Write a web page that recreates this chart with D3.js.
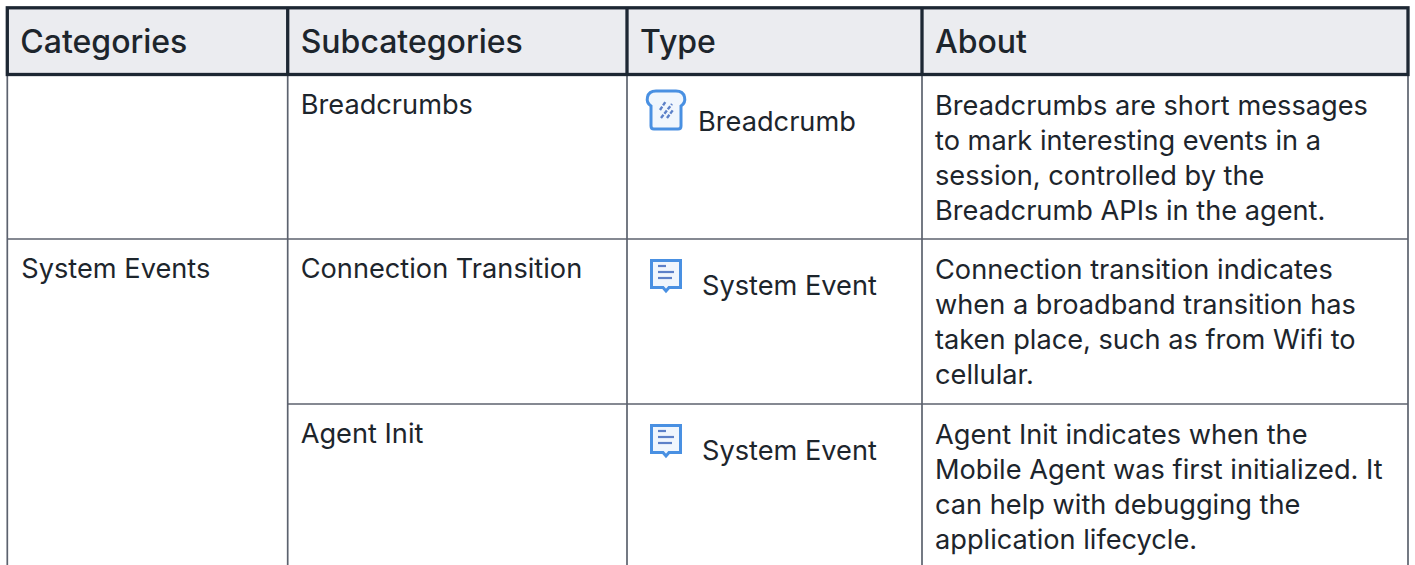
<!DOCTYPE html>
<html>
<head>
<meta charset="utf-8">
<script src="https://cdn.jsdelivr.net/npm/d3@7"></script>
<style>
    html, body { margin: 0; padding: 0; background: #fff; }
    svg { display: block; }
    text { font-family: Inter, "Noto Sans", sans-serif; fill: #1d252c; }
</style>
</head>
<body>
<div id="chart"></div>
<script>
// table content
const columns = ["Categories", "Subcategories", "Type", "About"];
const categories = ["", "System Events", ""];
const subcategories = ["Breadcrumbs", "Connection Transition", "Agent Init"];
const types = ["Breadcrumb", "System Event", "System Event"];
const about = [
    ["Breadcrumbs are short messages", "to mark interesting events in a", "session, controlled by the", "Breadcrumb APIs in the agent."],
    ["Connection transition indicates", "when a broadband transition has", "taken place, such as from Wifi to", "cellular."],
    ["Agent Init indicates when the", "Mobile Agent was first initialized. It", "can help with debugging the", "application lifecycle."]
];

const width = 1415, height = 565;
const colEdges = [7.3, 287.7, 627, 922, 1408];
const headTop = 7.8, headBottom = 74.5;
const rowTops = [75, 239, 404];
const lineHeight = 35;
const bodySize = 27.2;

const svg = d3.select("#chart").append("svg")
    .attr("width", width)
    .attr("height", height);

svg.append("defs").append("filter").attr("id", "soft")
    .append("feGaussianBlur").attr("stdDeviation", 0.7);

const rows = d3.range(subcategories.length);
const x = d3.scaleOrdinal().domain(columns).range(colEdges);
const y = d3.scaleOrdinal().domain(rows).range(rowTops);

// header band
svg.append("rect")
    .attr("x", colEdges[0]).attr("y", headTop)
    .attr("width", colEdges[4] - colEdges[0]).attr("height", headBottom - headTop)
    .attr("fill", "#ebecf0");

// body lines
const gridColor = "#5c626e";
svg.selectAll(".vline").data(colEdges).enter().append("line")
    .attr("class", "vline")
    .attr("x1", d => d).attr("x2", d => d)
    .attr("y1", headBottom).attr("y2", height)
    .attr("stroke", gridColor).attr("stroke-width", 1.7);

// System Events spans two rows, so the last line starts at the second column
svg.selectAll(".hline").data(rows.slice(1)).enter().append("line")
    .attr("class", "hline")
    .attr("x1", d => d === 2 ? colEdges[1] : colEdges[0])
    .attr("x2", colEdges[4])
    .attr("y1", d => y(d)).attr("y2", d => y(d))
    .attr("stroke", gridColor).attr("stroke-width", 1.7);

// header border
const headColor = "#1d2733";
svg.append("rect")
    .attr("x", colEdges[0]).attr("y", headTop)
    .attr("width", colEdges[4] - colEdges[0]).attr("height", headBottom - headTop)
    .attr("fill", "none").attr("stroke", headColor).attr("stroke-width", 3.3);
svg.selectAll(".hsep").data(colEdges.slice(1, 4)).enter().append("line")
    .attr("class", "hsep")
    .attr("x1", d => d).attr("x2", d => d)
    .attr("y1", headTop).attr("y2", headBottom)
    .attr("stroke", headColor).attr("stroke-width", 3.3);

// header text
svg.selectAll(".head").data(columns).enter().append("text")
    .attr("class", "head")
    .attr("x", d => x(d) + 13)
    .attr("y", 53)
    .attr("font-size", 32)
    .attr("font-weight", 550)
    .text(d => d);

// body text
svg.selectAll(".cat").data(categories).enter().append("text")
    .attr("x", x(columns[0]) + 14)
    .attr("y", (d, i) => y(i) + 39)
    .attr("font-size", bodySize).text(d => d);
svg.selectAll(".sub").data(subcategories).enter().append("text")
    .attr("x", x(columns[1]) + 13)
    .attr("y", (d, i) => y(i) + 39)
    .attr("font-size", bodySize).text(d => d);
svg.selectAll(".type").data(types).enter().append("text")
    .attr("x", d => x(columns[2]) + (d === "Breadcrumb" ? 71 : 75))
    .attr("y", (d, i) => y(i) + 56)
    .attr("font-size", bodySize).text(d => d);

about.forEach((lines, i) => {
    svg.selectAll(".about" + i).data(lines).enter().append("text")
        .attr("class", "about" + i)
        .attr("x", x(columns[3]) + 13)
        .attr("y", (d, j) => y(i) + 40 + j * lineHeight)
        .attr("font-size", bodySize).text(d => d);
});

// type icons, soft like the scaled bitmaps they stand in for
const iconBlue = "#4a90e2", iconInk = "#5b80c8", iconFill = "#f0f6fd";
const icons = svg.selectAll(".icon").data(types).enter().append("g")
    .attr("class", "icon")
    .attr("filter", "url(#soft)")
    .attr("transform", (d, i) => d === "Breadcrumb"
        ? `translate(${x(columns[2]) + 18},${y(i) + 13})`
        : `translate(${x(columns[2]) + 23},${y(i) + 20})`);

icons.filter(d => d === "Breadcrumb").each(function () {
    const g = d3.select(this);
    g.append("path")
        .attr("d", "M9 41 Q6 41 6 38 V18 C0 14 1 3 11 3 H31 C41 3 42 14 36 18 V38 Q36 41 33 41 Z")
        .attr("fill", iconFill).attr("stroke", iconBlue).attr("stroke-width", 3);
    g.selectAll(".slash").data([[15, 22, 21, 13], [16, 30, 27, 16], [22, 30, 28, 22]]).enter().append("line")
        .attr("class", "slash")
        .attr("x1", d => d[0]).attr("y1", d => d[1]).attr("x2", d => d[2]).attr("y2", d => d[3])
        .attr("stroke", iconInk).attr("stroke-width", 2.4).attr("stroke-dasharray", "4 1.5");
});

icons.filter(d => d === "System Event").each(function () {
    const g = d3.select(this);
    g.append("path")
        .attr("d", "M1.5 1.5 H30.5 V28.5 H19 L16 32 L13 28.5 H1.5 Z")
        .attr("fill", iconFill).attr("stroke", iconBlue).attr("stroke-width", 3);
    g.selectAll(".note").data([[8, 16, 7], [8, 24, 13], [8, 22, 19]]).enter().append("line")
        .attr("class", "note")
        .attr("x1", d => d[0]).attr("x2", d => d[1])
        .attr("y1", d => d[2]).attr("y2", d => d[2])
        .attr("stroke", iconInk).attr("stroke-width", 2.2);
});
</script>
</body>
</html>
